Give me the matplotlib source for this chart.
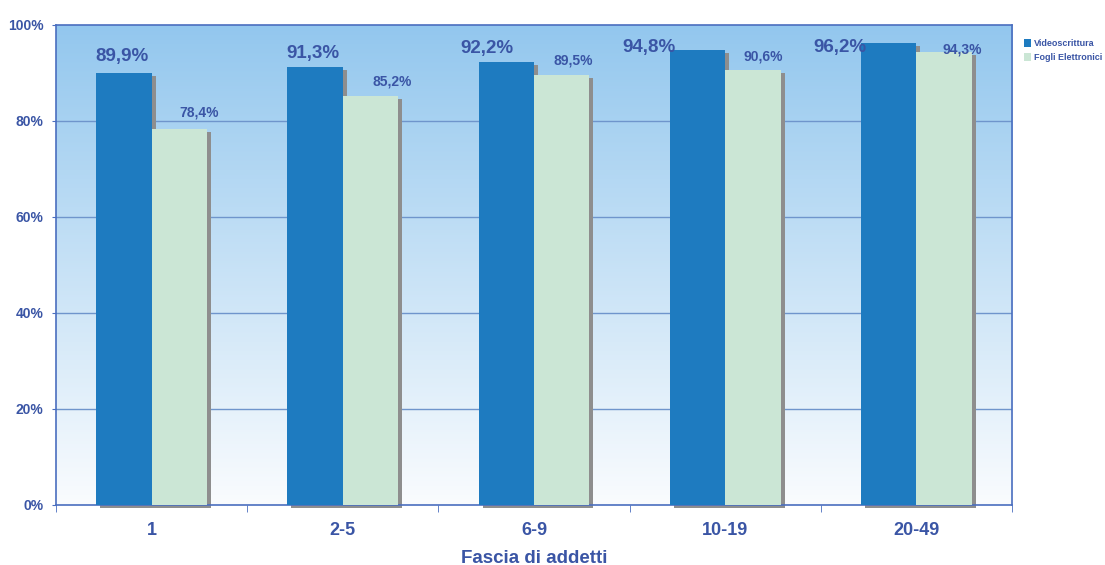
import numpy as np
import matplotlib
matplotlib.use("Agg")
import matplotlib.pyplot as plt
from matplotlib.transforms import ScaledTranslation
from matplotlib.patches import Patch

# Data
categories = ["1", "2-5", "6-9", "10-19", "20-49"]
videoscrittura = [89.9, 91.3, 92.2, 94.8, 96.2]
fogli_elettronici = [78.4, 85.2, 89.5, 90.6, 94.3]
series_names = ["Videoscrittura", "Fogli Elettronici"]
y_ticks = [0, 20, 40, 60, 80, 100]

# Label placement (pixel offsets from the top-centre of each bar)
blue_label_off = [(-2, 17), (-2, 13), (-19, 14), (-48, 2), (-49, -4)]
green_label_off = [(20, 16), (22, 15), (12, 15), (10, 14), (18, 3)]

TEXT = "#3A55A5"
BLUE = "#1E7BC0"
GREEN = "#CBE6D5"
SHADOW = "#8E8E8E"

plt.rcParams["font.family"] = ["Liberation Sans", "DejaVu Sans"]
plt.rcParams["font.weight"] = "bold"

DPI = 100
fig = plt.figure(figsize=(11.05, 5.65), dpi=DPI)
ax = fig.add_axes([56 / 1105, 1 - 505 / 565, (1012 - 56) / 1105, (505 - 25) / 565])

# Gradient background of the plot area
top = np.array([147, 199, 238]) / 255
bot = np.array([250, 252, 254]) / 255
t = np.linspace(0, 1, 256)[:, None]
grad = (top[None, :] * (1 - t) + bot[None, :] * t)[:, None, :]
ax.imshow(grad, extent=[0, 1, 0, 1], transform=ax.transAxes, aspect="auto", zorder=0)

x = np.arange(len(categories))
w = 0.29
shadow_tr = ax.transData + ScaledTranslation(4 / DPI, -3 / DPI, fig.dpi_scale_trans)

for vals, off, color in [(videoscrittura, -w / 2, BLUE), (fogli_elettronici, w / 2, GREEN)]:
    ax.bar(x + off, vals, w, color=SHADOW, transform=shadow_tr, zorder=2, clip_on=False)
for vals, off, color in [(videoscrittura, -w / 2, BLUE), (fogli_elettronici, w / 2, GREEN)]:
    ax.bar(x + off, vals, w, color=color, zorder=3, linewidth=0)

def fmt(v):
    return f"{v:.1f}%".replace(".", ",")

for i, v in enumerate(videoscrittura):
    ax.annotate(fmt(v), (x[i] - w / 2, v), xytext=blue_label_off[i], textcoords="offset pixels",
                ha="center", va="center", fontsize=13.5, fontweight="bold", color=TEXT, zorder=5)
for i, v in enumerate(fogli_elettronici):
    ax.annotate(fmt(v), (x[i] + w / 2, v), xytext=green_label_off[i], textcoords="offset pixels",
                ha="center", va="center", fontsize=10, fontweight="bold", color=TEXT, zorder=5)

ax.set_xlim(-0.5, len(categories) - 0.5)
ax.set_ylim(0, 100)

# Gridlines
for yv in y_ticks[1:-1]:
    ax.axhline(yv, color="#6F95CC", linewidth=1, zorder=1)

ax.set_yticks(y_ticks)
ax.set_yticklabels([f"{v}%" for v in y_ticks], fontsize=10, fontweight="bold", color=TEXT)
ax.tick_params(axis="y", length=3, color="#4A6EBF", pad=6)

ax.set_xticks(x)
ax.set_xticklabels(categories, fontsize=13, fontweight="bold", color=TEXT)
ax.tick_params(axis="x", which="major", length=0, pad=12)
ax.set_xticks(np.arange(-0.5, len(categories)), minor=True)
ax.tick_params(axis="x", which="minor", length=5, color="#4A6EBF", direction="out")

ax.set_xlabel("Fascia di addetti", fontsize=13.5, fontweight="bold", color=TEXT, labelpad=8)

for s in ax.spines.values():
    s.set_color("#4A6EBF")
    s.set_linewidth(1.2)

handles = [Patch(facecolor=BLUE), Patch(facecolor=GREEN)]
fig.legend(handles, series_names, loc="upper left", bbox_to_anchor=(1018 / 1105, 1 - 33 / 565),
           frameon=False, handlelength=0.75, handleheight=0.9, handletextpad=0.3,
           labelspacing=0.55, labelcolor=TEXT, prop={"weight": "bold", "size": 6.5},
           borderaxespad=0.3)

fig.savefig("out.png", dpi=DPI, facecolor="white")
